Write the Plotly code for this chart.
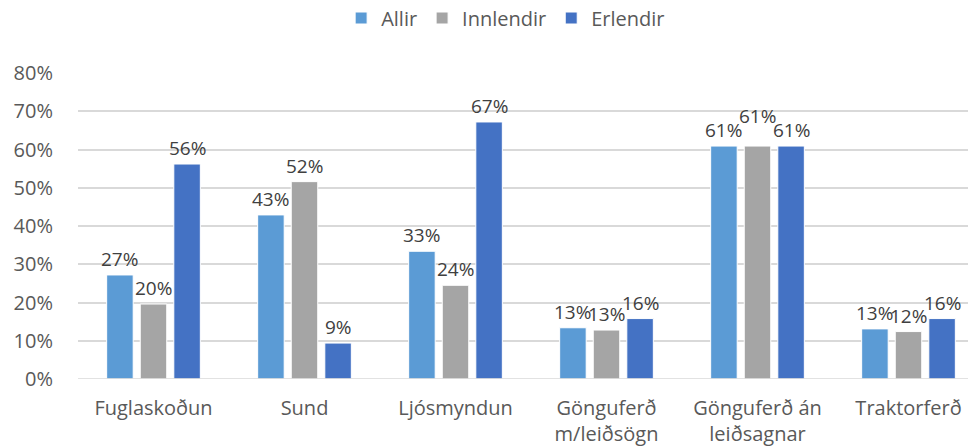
import plotly.graph_objects as go

categories = ["Fuglaskoðun", "Sund", "Ljósmyndun", "Gönguferð<br>m/leiðsögn", "Gönguferð án<br>leiðsagnar", "Traktorferð"]
allir = [27.2, 42.9, 33.4, 13.4, 60.9, 13.1]
innlendir = [19.6, 51.6, 24.5, 12.8, 60.9, 12.4]
erlendir = [56.2, 9.4, 67.2, 15.8, 60.9, 15.8]
y_ticks = [0, 10, 20, 30, 40, 50, 60, 70, 80]
y_tick_labels = [f"{v}%" for v in y_ticks]

series = [("Allir", allir, "#5B9BD5"), ("Innlendir", innlendir, "#A5A5A5"), ("Erlendir", erlendir, "#4472C4")]

FONT = "Open Sans"
BARGAP = 0.333
fig = go.Figure()
for name, vals, color in series:
    fig.add_trace(go.Bar(
        name=name, x=list(range(len(categories))), y=vals,
        marker=dict(color=color, line=dict(color="white", width=1)),
        cliponaxis=False,
    ))

# data labels as annotations (lets overlapping labels be lifted like the original)
slot = (1 - BARGAP) / 3
for si, (name, vals, color) in enumerate(series):
    for ci, v in enumerate(vals):
        lift = 16
        if si == 1 and abs(allir[ci] - v) < 0.5 and abs(erlendir[ci] - v) < 0.5:
            lift += 14
        fig.add_annotation(x=ci + (si - 1) * slot, y=v, xref="x", yref="y",
                           text=f"{round(v)}%", showarrow=False, yshift=lift,
                           font=dict(family=FONT, size=19, color="#404040"))

fig.update_layout(
    width=976, height=448,
    margin=dict(l=70, r=0, t=65, b=77, autoexpand=False),
    paper_bgcolor="white", plot_bgcolor="white",
    barmode="group", bargap=BARGAP, bargroupgap=0.21,
    font=dict(family=FONT, size=20, color="#595959"),
    legend=dict(orientation="h", x=0.472, xanchor="center", y=1 - 10 / 448, yref="container", yanchor="middle",
                font=dict(family=FONT, size=20, color="#595959"), traceorder="normal"),
    xaxis=dict(range=[-0.5, 5.5], tickmode="array", tickvals=list(range(len(categories))),
               ticktext=categories, showgrid=False, zeroline=False, showline=False,
               ticks="outside", ticklen=11, tickcolor="rgba(0,0,0,0)",
               tickfont=dict(family=FONT, size=20, color="#595959")),
    yaxis=dict(range=[0, 80], tickmode="array", tickvals=y_ticks, ticktext=y_tick_labels,
               showgrid=True, gridcolor="#D9D9D9", gridwidth=1.5, zeroline=False, showline=False,
               ticks="outside", ticklen=20, tickcolor="rgba(0,0,0,0)",
               tickfont=dict(family=FONT, size=20, color="#595959")),
)
fig.add_shape(type="line", xref="paper", yref="y", x0=0, x1=1, y0=0, y1=0,
              line=dict(color="#D9D9D9", width=1.5))
fig.write_html("out.html")
